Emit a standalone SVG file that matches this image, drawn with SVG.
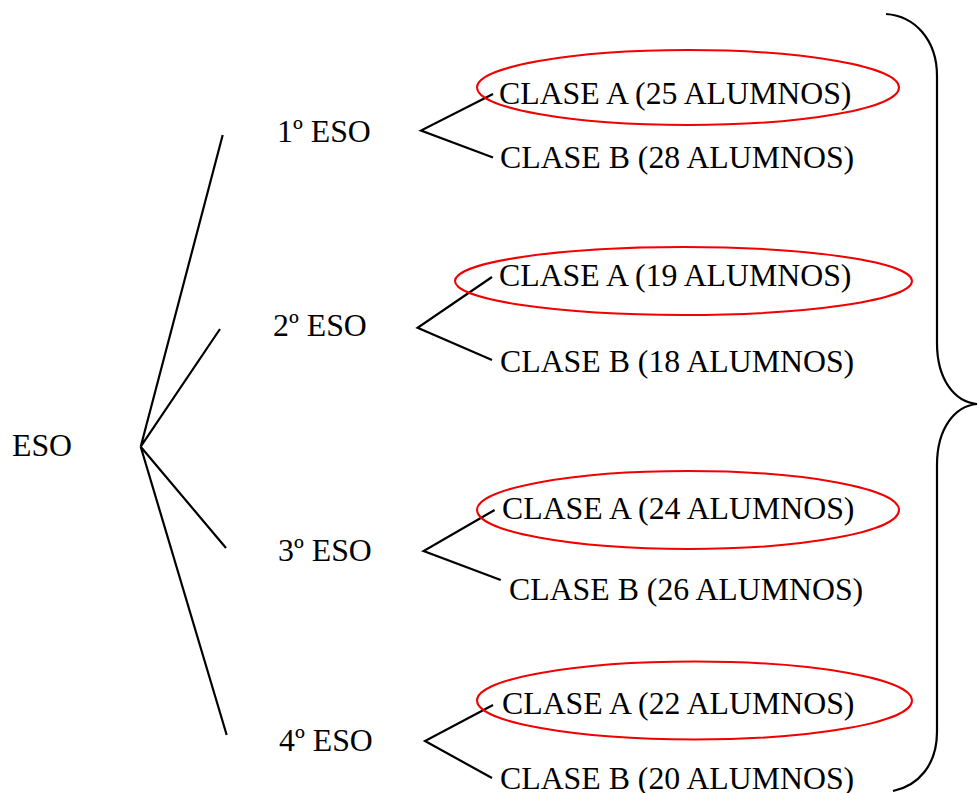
<svg xmlns="http://www.w3.org/2000/svg" width="978" height="793" viewBox="0 0 978 793">
<style>
text{font-family:"Liberation Serif","Times New Roman",serif;font-size:31.8px;fill:#000}
.ln{stroke:#000;stroke-width:2.2;fill:none}
.ov{stroke:#f00000;stroke-width:2;fill:none}
</style>
<rect width="978" height="793" fill="#fff"/>
<g id="connectors">
<path class="ln" d="M222.7,135 L140.7,446.7 L220,329 M140.7,446.7 L226,548 M140.7,446.7 L226.7,735"/>
<path class="ln" d="M493,94 L421,130.5 L493,157.5"/>
<path class="ln" d="M492,277 L417.6,327.8 L492,360"/>
<path class="ln" d="M494.6,510 L423.6,551 L500.7,580"/>
<path class="ln" d="M493,705 L425,741 L492,778"/>
</g>
<g id="eso"><text x="12" y="456">ESO</text></g>
<g id="eso1"><text x="277" y="142">1º ESO</text></g>
<g id="eso2"><text x="273" y="336">2º ESO</text></g>
<g id="eso3"><text x="278" y="561">3º ESO</text></g>
<g id="eso4"><text x="279" y="751">4º ESO</text></g>
<g id="e1a"><ellipse class="ov" cx="688" cy="87.5" rx="211" ry="37.5"/><text x="499" y="104">CLASE A (25 ALUMNOS)</text></g>
<g id="e1b"><text x="500" y="168">CLASE B (28 ALUMNOS)</text></g>
<g id="e2a"><ellipse class="ov" cx="683.5" cy="281" rx="228.5" ry="34"/><text x="499" y="285.5">CLASE A (19 ALUMNOS)</text></g>
<g id="e2b"><text x="500" y="372">CLASE B (18 ALUMNOS)</text></g>
<g id="e3a"><ellipse class="ov" cx="688" cy="510" rx="211" ry="39"/><text x="502" y="519">CLASE A (24 ALUMNOS)</text></g>
<g id="e3b"><text x="509" y="600">CLASE B (26 ALUMNOS)</text></g>
<g id="e4a"><ellipse class="ov" cx="694.5" cy="700.5" rx="217.5" ry="39"/><text x="502" y="714">CLASE A (22 ALUMNOS)</text></g>
<g id="e4b"><text x="500" y="789">CLASE B (20 ALUMNOS)</text></g>
<g id="brace"><path class="ln" d="M886,14 C915,16 937,40 937,76 L937,343 C937,380 955,402 977,404 C955,406 937,428 937,465 L937,732 C937,765 918,786 893,791"/></g>
</svg>
